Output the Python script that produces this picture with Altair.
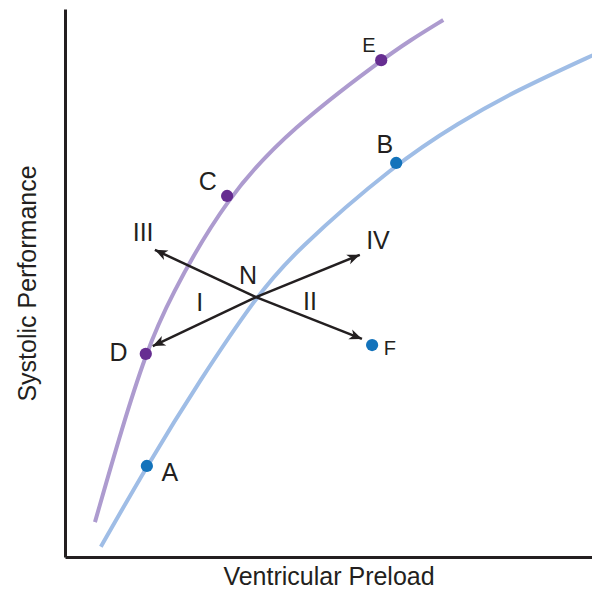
import math
import altair as alt
import pandas as pd

# ---- data (x: ventricular preload, y: systolic performance, arbitrary 0-100 units) ----
blue_x = [6.7, 15.3, 25.2, 35.7, 42.6, 61.9, 73.8, 83.7, 100.0]
blue_y = [2.4, 17.1, 32.7, 47.8, 55.8, 72.2, 79.6, 85.1, 92.4]
purple_x = [5.6, 10.7, 15.1, 19.3, 30.3, 42.6, 59.1, 64.5, 70.7]
purple_y = [6.9, 24.2, 37.5, 47.3, 66.2, 78.7, 90.9, 94.5, 98.2]

point_names = ["A", "B", "C", "D", "E", "F"]
point_x = [15.3, 61.9, 30.3, 15.1, 59.1, 57.4]
point_y = [17.1, 72.2, 66.2, 37.5, 90.9, 39.1]
point_group = ["blue", "blue", "purple", "purple", "purple", "blue"]

label_text = ["A", "B", "C", "D", "E", "F", "N", "I", "II", "III", "IV"]
label_x = [19.6, 59.8, 26.7, 10.0, 56.8, 60.7, 34.2, 25.2, 45.8, 14.6, 58.5]
label_y = [15.8, 75.5, 68.7, 37.6, 93.5, 38.4, 51.6, 46.7, 46.9, 59.5, 58.0]
label_size = [25, 25, 25, 25, 20, 20, 25, 25, 25, 25, 25]

n_x, n_y = 35.7, 47.8
arrow_names = ["I", "II", "III", "IV"]
arrow_x = [16.4, 55.5, 16.8, 55.1]
arrow_y = [38.9, 40.2, 56.4, 55.5]

X_DOMAIN = [0, 98.5]
Y_DOMAIN = [0.55, 100.2]
W, H = 527, 548
FONT = "Liberation Sans"
INK = "#231f20"

curves = pd.DataFrame(
    {"x": blue_x + purple_x,
     "y": blue_y + purple_y,
     "g": ["blue"] * len(blue_x) + ["purple"] * len(purple_x)}
)
points = pd.DataFrame({"name": point_names, "x": point_x, "y": point_y, "g": point_group})
labels = pd.DataFrame({"t": label_text, "x": label_x, "y": label_y, "s": label_size})
arrows = pd.DataFrame({"name": arrow_names, "x": [n_x] * 4, "y": [n_y] * 4,
                       "x2": arrow_x, "y2": arrow_y})
kx = W / (X_DOMAIN[1] - X_DOMAIN[0])
ky = H / (Y_DOMAIN[1] - Y_DOMAIN[0])
arrows["ang"] = [
    (math.degrees(math.atan2((x2 - n_x) * kx, (y2 - n_y) * ky)) + 360) % 360
    for x2, y2 in zip(arrow_x, arrow_y)
]

xs = alt.Scale(domain=X_DOMAIN, nice=False, zero=False)
ys = alt.Scale(domain=Y_DOMAIN, nice=False, zero=False)
x_axis = alt.Axis(titlePadding=7)
y_axis = alt.Axis(titlePadding=25)
X_TITLE = "Ventricular Preload"
Y_TITLE = "Systolic Performance"
line_cols = alt.Scale(domain=["blue", "purple"], range=["#9fbde6", "#ad9bcf"])
dot_cols = alt.Scale(domain=["blue", "purple"], range=["#1373bb", "#662d91"])


def X(field):
    return alt.X(field, scale=xs, axis=x_axis, title=X_TITLE)


def Y(field):
    return alt.Y(field, scale=ys, axis=y_axis, title=Y_TITLE)


lines = alt.Chart(curves).mark_line(interpolate="basis", strokeWidth=4,
                                    clip=True).encode(
    x=X("x:Q"), y=Y("y:Q"),
    color=alt.Color("g:N", scale=line_cols, legend=None),
)

rules = alt.Chart(arrows).mark_rule(strokeWidth=2.5, color=INK).encode(
    x=X("x:Q"), y=Y("y:Q"), x2="x2:Q", y2="y2:Q",
)

heads = alt.Chart(arrows).mark_point(
    shape="M0,0 L0.6,1.45 L0,1.05 L-0.6,1.45 Z",
    filled=True, opacity=1, color=INK, size=300, strokeWidth=0,
).encode(
    x=X("x2:Q"), y=Y("y2:Q"),
    angle=alt.Angle("ang:Q", scale=None),
)

dots = alt.Chart(points).mark_circle(size=150, opacity=1).encode(
    x=X("x:Q"), y=Y("y:Q"),
    color=alt.Color("g:N", scale=dot_cols, legend=None),
)

texts = alt.Chart(labels).mark_text(font=FONT, color=INK, align="center",
                                    baseline="middle").encode(
    x=X("x:Q"), y=Y("y:Q"),
    text="t:N",
    size=alt.Size("s:Q", scale=None),
)

chart = alt.layer(lines, rules, heads, dots, texts).resolve_scale(
    color="independent"
).properties(
    width=W, height=H,
    autosize=alt.AutoSizeParams(type="none"),
    padding={"left": 57, "top": 1, "right": 0, "bottom": 31},
).configure_view(stroke=None).configure_axis(
    domainColor=INK, domainWidth=3, ticks=False, labels=False, grid=False,
    titleFont=FONT, titleFontSize=25, titleFontWeight="normal", titleColor=INK,
)

chart.save("out.html", embed_options={"renderer": "svg", "actions": False})
